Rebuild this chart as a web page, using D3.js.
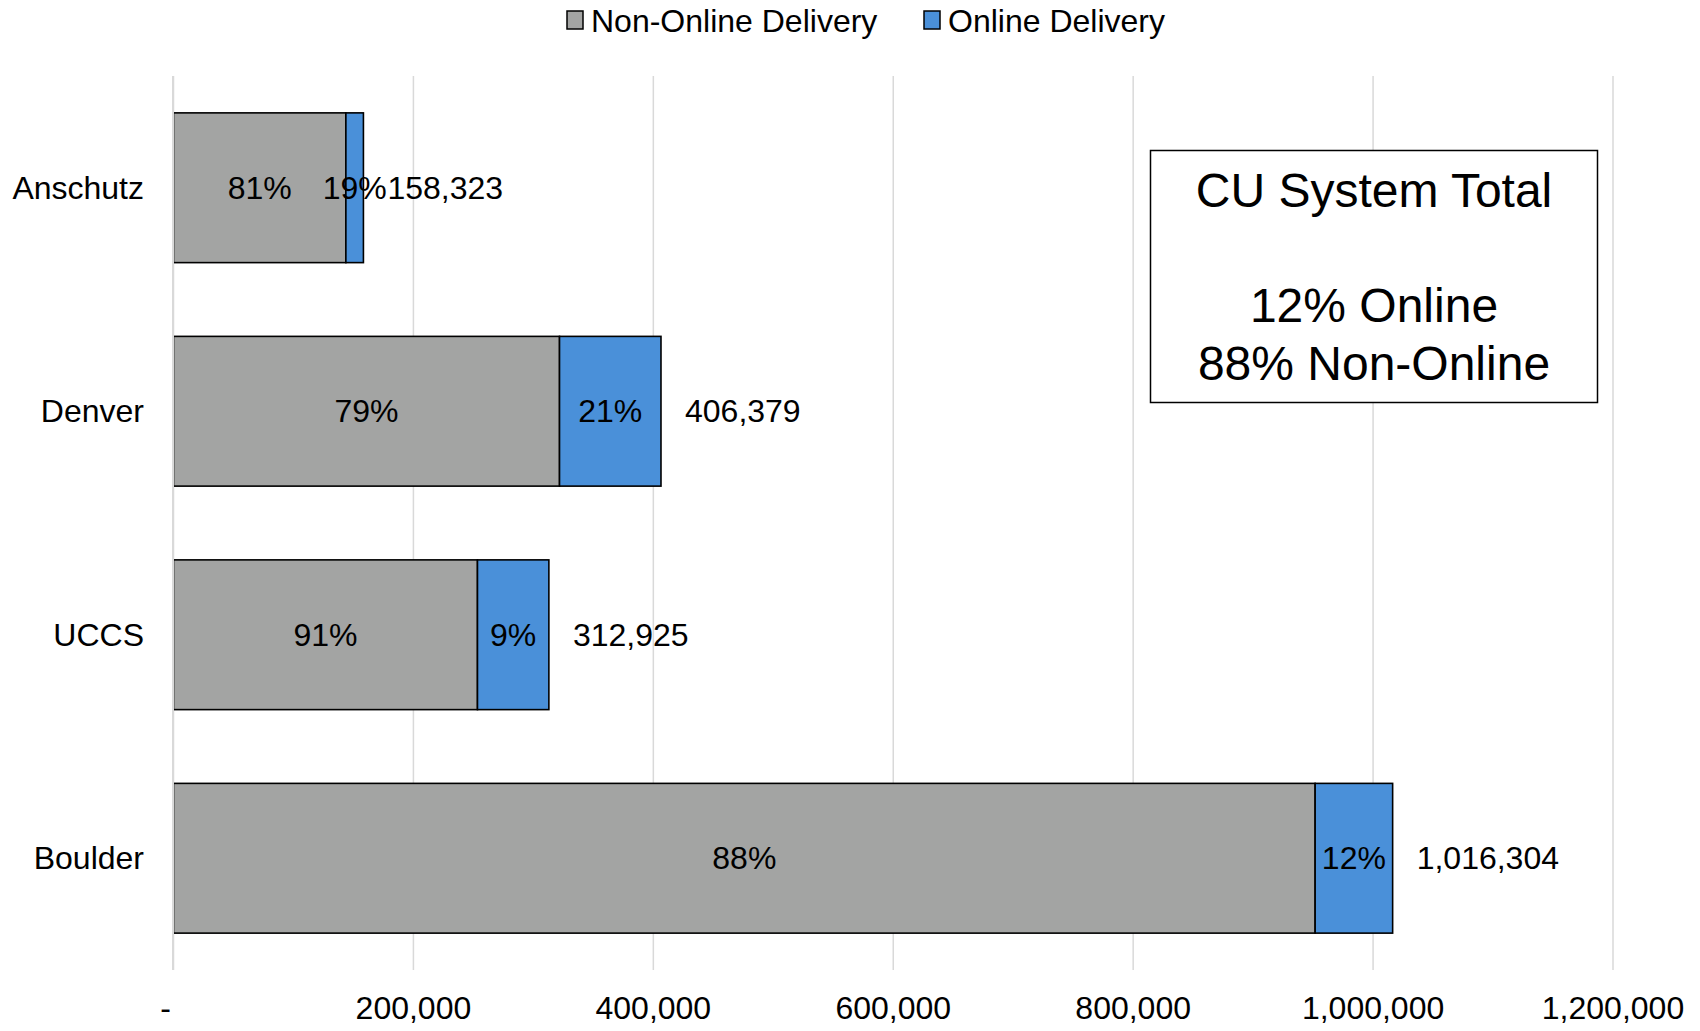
<!DOCTYPE html>
<html>
<head>
<meta charset="utf-8">
<script src="https://cdn.jsdelivr.net/npm/d3@7"></script>
<style>
  html, body { margin: 0; padding: 0; background: #fff; }
  svg { display: block; font-family: "Liberation Sans", Arial, Helvetica, sans-serif; }
</style>
</head>
<body>
<svg id="chart" width="1700" height="1031"></svg>
<script>
// ---- data ----
const categories = ["Anschutz", "Denver", "UCCS", "Boulder"];
const nonOnline = [143700, 321800, 253400, 951700];
const online = [14623, 84579, 59525, 64604];
const totals = [158323, 406379, 312925, 1016304];
const nonOnlineLabels = ["81%", "79%", "91%", "88%"];
const onlineLabels = ["19%", "21%", "9%", "12%"];
const xTicks = [0, 200000, 400000, 600000, 800000, 1000000, 1200000];
const seriesNames = ["Non-Online Delivery", "Online Delivery"];
const boxLines = ["CU System Total", "", "12% Online", "88% Non-Online"];

const colors = { non: "#a3a4a3", on: "#4a90d9" };
const FS = 32;

const svg = d3.select("#chart");
const x = d3.scaleLinear().domain([0, 1200000]).range([173.5, 1613]);
const y = d3.scaleBand().domain(categories).range([76, 970]).paddingInner(0.33).paddingOuter(0.165);

// gridlines
svg.append("g").selectAll("line").data(xTicks).join("line")
  .attr("x1", d => x(d)).attr("x2", d => x(d))
  .attr("y1", 76).attr("y2", 970)
  .attr("stroke", "#d9d9d9").attr("stroke-width", 1.5);

// x axis labels
const fmt = d3.format(",");
svg.append("g").selectAll("text").data(xTicks).join("text")
  .attr("x", d => d === 0 ? x(d) - 8 : x(d)).attr("y", 1008)
  .attr("text-anchor", "middle").attr("dominant-baseline", "central")
  .attr("font-size", FS).attr("fill", "#000")
  .text(d => d === 0 ? "-" : fmt(d));

// category labels
svg.append("g").selectAll("text").data(categories).join("text")
  .attr("x", 144).attr("y", d => y(d) + y.bandwidth() / 2)
  .attr("text-anchor", "end").attr("dominant-baseline", "central")
  .attr("font-size", FS).attr("fill", "#000")
  .text(d => d);

// bars
const rows = categories.map((c, i) => ({ c, non: nonOnline[i], on: online[i], total: totals[i], nl: nonOnlineLabels[i], ol: onlineLabels[i] }));
const bars = svg.append("g");
bars.selectAll("rect.non").data(rows).join("rect").attr("class", "non")
  .attr("x", x(0)).attr("y", d => y(d.c))
  .attr("width", d => x(d.non) - x(0)).attr("height", y.bandwidth())
  .attr("fill", colors.non).attr("stroke", "#000").attr("stroke-width", 1.6);
bars.selectAll("rect.on").data(rows).join("rect").attr("class", "on")
  .attr("x", d => x(d.non)).attr("y", d => y(d.c))
  .attr("width", d => x(d.non + d.on) - x(d.non)).attr("height", y.bandwidth())
  .attr("fill", colors.on).attr("stroke", "#000").attr("stroke-width", 1.6);

// zero line over bar left edges
svg.append("line")
  .attr("x1", x(0) - 0.5).attr("x2", x(0) - 0.5).attr("y1", 76).attr("y2", 970)
  .attr("stroke", "#d9d9d9").attr("stroke-width", 2);

// segment labels
const lbl = svg.append("g").attr("font-size", FS).attr("fill", "#000");
lbl.selectAll("text.nl").data(rows).join("text").attr("class", "nl")
  .attr("x", d => (x(0) + x(d.non)) / 2).attr("y", d => y(d.c) + y.bandwidth() / 2)
  .attr("text-anchor", "middle").attr("dominant-baseline", "central").text(d => d.nl);
lbl.selectAll("text.ol").data(rows).join("text").attr("class", "ol")
  .attr("x", d => (x(d.non) + x(d.non + d.on)) / 2).attr("y", d => y(d.c) + y.bandwidth() / 2)
  .attr("text-anchor", "middle").attr("dominant-baseline", "central").text(d => d.ol);
lbl.selectAll("text.tot").data(rows).join("text").attr("class", "tot")
  .attr("x", d => x(d.total) + 24).attr("y", d => y(d.c) + y.bandwidth() / 2)
  .attr("text-anchor", "start").attr("dominant-baseline", "central").text(d => fmt(d.total));

// legend
const legendX = [567, 924];
const lg = svg.append("g");
seriesNames.forEach((name, i) => {
  lg.append("rect").attr("x", legendX[i]).attr("y", 11).attr("width", 16).attr("height", 18)
    .attr("fill", i === 0 ? colors.non : colors.on).attr("stroke", "#000").attr("stroke-width", 1.5);
  lg.append("text").attr("x", legendX[i] + 24).attr("y", 21)
    .attr("dominant-baseline", "central").attr("font-size", FS).attr("fill", "#000").text(name);
});

// annotation box
svg.append("rect").attr("x", 1150.5).attr("y", 150.5).attr("width", 447).attr("height", 252)
  .attr("fill", "#fff").attr("stroke", "#000").attr("stroke-width", 1.5);
const bt = svg.append("text").attr("x", 1374).attr("y", 207).attr("text-anchor", "middle")
  .attr("font-size", 48).attr("fill", "#000");
boxLines.forEach((t, i) => {
  bt.append("tspan").attr("x", 1374).attr("y", 207 + i * 57.5).text(t);
});
</script>
</body>
</html>
